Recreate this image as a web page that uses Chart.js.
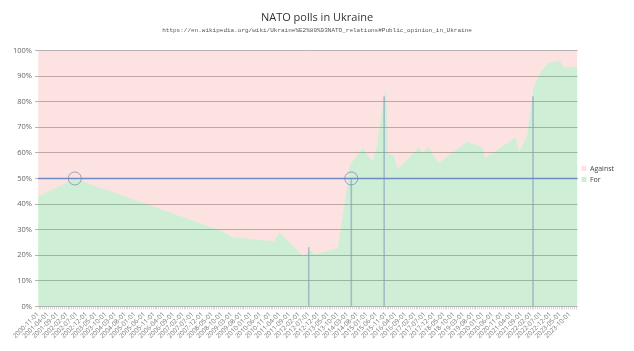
<!DOCTYPE html>
<html>
<head>
<meta charset="utf-8">
<script src="https://cdn.jsdelivr.net/npm/chart.js@4.4.1/dist/chart.umd.min.js"></script>
<style>
  html, body { margin: 0; padding: 0; background: #fff; }
  #wrap { width: 634px; height: 351px; }
</style>
</head>
<body>
<div id="wrap"><canvas id="natoChart"></canvas></div>
<script>
// axis range (monthly categories)
const firstMonth = '2000-11';
const lastMonth = '2024-02';

// poll results: share "For" joining NATO, %
const pollDates = ['2000-11', '2002-06', '2008-10', '2009-04', '2011-01', '2011-04', '2012-04', '2012-08',
    '2012-10', '2013-10', '2014-03', '2014-04', '2014-11', '2015-04', '2015-06', '2015-11', '2015-12',
    '2016-03', '2016-05', '2016-08', '2017-04', '2017-06', '2017-09', '2018-02', '2019-05', '2020-01',
    '2020-02', '2021-06', '2021-08', '2021-12', '2022-03', '2022-05', '2022-07', '2022-11', '2023-05',
    '2023-07', '2024-02'];
const forValues = [43, 50, 29.5, 27, 25.5, 29, 19.6, 22, 20.4, 22.7, 48, 55, 62, 56.5, 62, 86, 60,
    59, 54, 55.7, 62.4, 60, 62.4, 56, 64.3, 62, 58, 66, 60.4, 67, 84.7, 88.6, 91.8, 95.3, 96,
    93.3, 93.7];
const againstValues = forValues.map(v => 100 - v);

// event markers (vertical lines)
const eventDates = ['2012-07', '2014-05', '2015-10', '2022-03'];
const eventValues = [23, 50, 82, 82];

// majority crossings (circles on the 50% line)
const crossDates = ['2002-06', '2014-05'];
const majority = 50;

const months = [];
{
    let [y, m] = firstMonth.split('-').map(Number);
    const [ly, lm] = lastMonth.split('-').map(Number);
    while (y < ly || (y === ly && m <= lm)) {
        months.push(`${y}-${String(m).padStart(2, '0')}-01`);
        m++;
        if (m > 12) { m = 1; y++; }
    }
}
const toPoints = (dates, vals) => dates.map((d, i) => ({ x: d + '-01', y: vals[i] }));

const ctx = document.getElementById('natoChart').getContext('2d');
new Chart(ctx, {
    data: {
        labels: months,
        datasets: [
            {
                type: 'line',
                label: 'majority',
                stack: 'ref',
                data: [{ x: months[0], y: majority }, { x: months[months.length - 1], y: majority }],
                borderColor: '#7189c4',
                borderWidth: 1.6,
                pointRadius: 0,
                fill: false
            },
            {
                type: 'line',
                label: 'crossings',
                stack: 'marks',
                data: crossDates.map(d => ({ x: d + '-01', y: majority })),
                showLine: false,
                pointRadius: 6.5,
                pointBorderWidth: 1,
                pointBorderColor: 'rgba(120,130,165,0.7)',
                pointBackgroundColor: 'rgba(0,0,0,0)'
            },
            {
                type: 'bar',
                label: 'events',
                stack: 'events',
                data: toPoints(eventDates, eventValues),
                backgroundColor: 'rgba(130,150,190,0.55)',
                barThickness: 1
            },
            {
                type: 'line',
                label: 'For',
                stack: 'poll',
                data: toPoints(pollDates, forValues),
                borderWidth: 0,
                borderColor: 'rgba(60,190,90,0.25)',
                backgroundColor: 'rgba(60,190,90,0.25)',
                pointRadius: 0,
                tension: 0,
                fill: 'origin'
            },
            {
                type: 'line',
                label: 'Against',
                stack: 'poll',
                data: toPoints(pollDates, againstValues),
                borderWidth: 0,
                borderColor: 'rgba(245,110,110,0.2)',
                backgroundColor: 'rgba(245,110,110,0.2)',
                pointRadius: 0,
                tension: 0,
                fill: '-1'
            }
        ]
    },
    options: {
        responsive: true,
        maintainAspectRatio: false,
        animation: false,
        layout: { padding: { top: 7, right: 10, left: 10, bottom: 10 } },
        plugins: {
            title: {
                display: true,
                text: 'NATO polls in Ukraine',
                color: '#333',
                font: { family: 'Open Sans', size: 11, weight: 'normal' },
                padding: { top: 4, bottom: 3 }
            },
            subtitle: {
                display: true,
                text: 'https://en.wikipedia.org/wiki/Ukraine%E2%80%93NATO_relations#Public_opinion_in_Ukraine',
                color: '#555',
                font: { family: 'Liberation Mono', size: 6 },
                padding: { bottom: 16 }
            },
            legend: {
                position: 'right',
                labels: {
                    boxWidth: 5,
                    boxHeight: 5,
                    padding: 4,
                    color: '#444',
                    font: { family: 'Open Sans', size: 7 },
                    filter: item => item.text === 'For' || item.text === 'Against',
                    sort: (a, b) => b.datasetIndex - a.datasetIndex
                }
            },
            tooltip: { enabled: false }
        },
        scales: {
            x: {
                type: 'category',
                offset: false,
                grid: { drawOnChartArea: false, color: '#d8d8d8', tickLength: 3 },
                border: { display: false },
                ticks: {
                    autoSkip: false,
                    minRotation: 45,
                    maxRotation: 45,
                    padding: 1,
                    color: '#777',
                    font: { family: 'Open Sans', size: 6.5 },
                    callback: function (v, i) { return i % 5 === 0 ? this.getLabelForValue(v) : ''; }
                }
            },
            y: {
                stacked: true,
                min: 0,
                max: 100,
                border: { display: false },
                grid: { color: '#b5b5b5', tickLength: 3 },
                ticks: {
                    stepSize: 10,
                    color: '#666',
                    font: { family: 'Open Sans', size: 7.5 },
                    callback: v => v + '%'
                }
            }
        }
    }
});
</script>
</body>
</html>
